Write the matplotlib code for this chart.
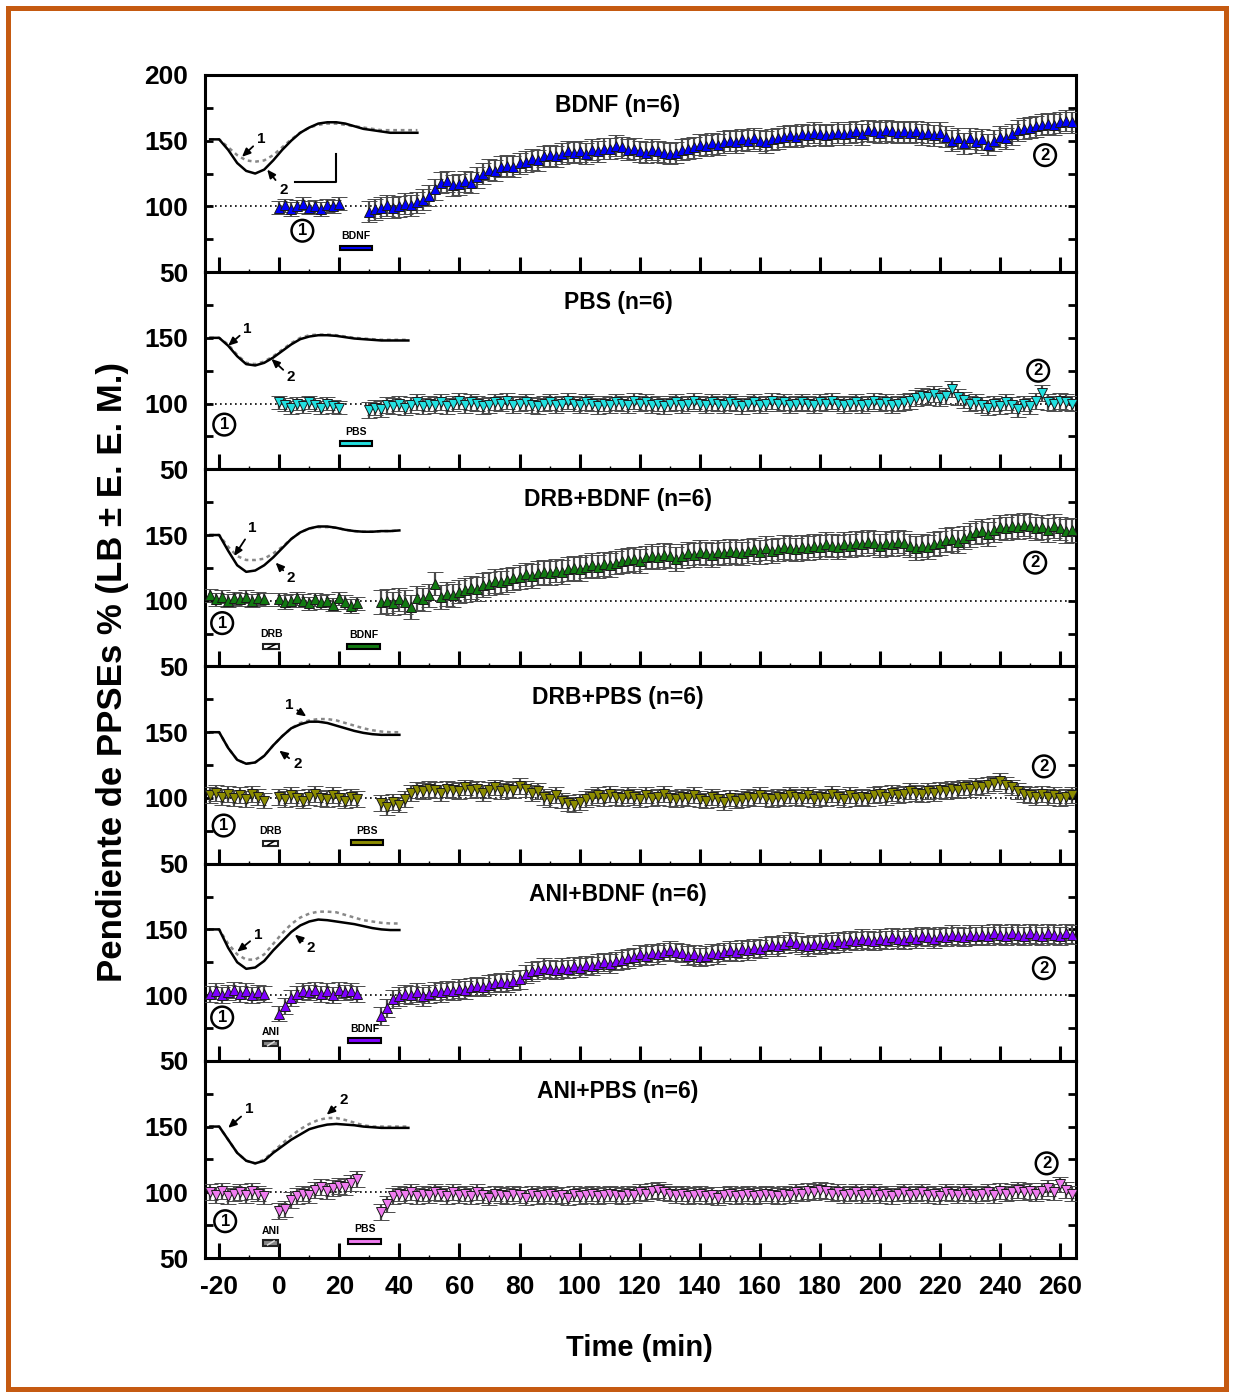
import numpy as np
import matplotlib
matplotlib.use("Agg")
import matplotlib.pyplot as plt
from matplotlib.patches import Rectangle

plt.rcParams['font.family'] = ['Liberation Sans', 'DejaVu Sans']
plt.rcParams['font.weight'] = 'bold'
plt.rcParams['axes.unicode_minus'] = False

# tiempos (min) de cada segmento
t_pre = np.arange(-23, -4, 2)      # -23 .. -5
t_a12 = np.arange(0, 21, 2)        # 0 .. 20  (BDNF, PBS)
t_a = np.arange(0, 27, 2)          # 0 .. 26
t_b12 = np.arange(30, 265, 2)      # 30 .. 264 (BDNF, PBS)
t_b = np.arange(34, 265, 2)        # 34 .. 264

# ---- BDNF ----
bdnf_a = [99, 101, 98, 100, 102, 99, 100, 98, 101, 100, 102]
bdnf_b = [96, 98, 99, 101, 99, 100, 102, 101, 103, 105,
          108, 113, 118, 119, 116, 117, 119, 118, 122, 125,
          128, 127, 130, 131, 130, 133, 134, 136, 135, 138,
          139, 138, 140, 142, 141, 142, 140, 143, 142, 144,
          144, 146, 145, 143, 144, 142, 141, 143, 142, 141,
          140, 141, 143, 144, 145, 147, 146, 148, 147, 149,
          150, 149, 151, 150, 152, 150, 149, 151, 152, 153,
          154, 153, 155, 154, 156, 155, 154, 155, 156, 155,
          156, 157, 155, 158, 157, 156, 158, 157, 156, 157,
          156, 157, 155, 156, 154, 156, 153, 150, 152, 148,
          152, 149, 151, 147, 150, 153, 152, 155, 158, 159,
          160, 161, 162, 163, 162, 164, 165, 164]
bdnf_sem = [5, 8]

# ---- PBS ----
pbs_a = [101, 99, 97, 100, 98, 101, 99, 97, 100, 98, 97]
pbs_b = [95, 97, 96, 99, 98, 100, 97, 99, 101, 98,
         100, 99, 101, 98, 100, 102, 99, 101, 100, 98,
         99, 101, 100, 102, 99, 100, 101, 99, 98, 100,
         101, 99, 100, 102, 100, 99, 101, 100, 98, 100,
         99, 101, 100, 99, 102, 100, 101, 99, 100, 98,
         100, 101, 99, 100, 102, 100, 99, 101, 100, 99,
         101, 100, 98, 100, 101, 99, 100, 102, 100, 101,
         99, 100, 101, 100, 99, 101, 100, 102, 100, 99,
         100, 101, 99, 100, 102, 100, 101, 99, 100, 101,
         102, 104, 106, 105, 107, 104, 106, 111, 105, 103,
         100, 101, 99, 97, 100, 98, 101, 99, 96, 100,
         98, 102, 108, 101, 100, 102, 101, 100]
pbs_sem = [5, 6]

# ---- DRB+BDNF ----
drb_bdnf_pre = [104, 101, 103, 100, 102, 101, 103, 100, 102, 101]
drb_bdnf_a = [101, 99, 100, 102, 100, 98, 101, 99, 100, 97, 102, 99, 96, 98]
drb_bdnf_b = [99, 100, 98, 101, 99, 95, 102, 101, 104, 113,
              103, 105, 104, 107, 108, 110, 109, 112, 113, 115,
              114, 116, 117, 118, 120, 119, 121, 122, 121, 123,
              122, 124, 125, 124, 126, 127, 126, 128, 127, 129,
              130, 131, 132, 130, 133, 134, 133, 135, 134, 132,
              134, 136, 135, 137, 136, 135, 137, 136, 138, 137,
              136, 138, 139, 137, 140, 138, 139, 141, 140, 139,
              141, 140, 142, 141, 143, 142, 141, 143, 142, 144,
              143, 145, 144, 142, 144, 143, 145, 144, 142, 140,
              142, 141, 143, 144, 146, 147, 145, 148, 150, 152,
              153, 151, 154, 156, 155, 157, 156, 158, 157, 155,
              156, 154, 157, 155, 153, 154]
drb_bdnf_sem = [5, 5, 9]

# ---- DRB+PBS ----
drb_pbs_pre = [102, 104, 101, 103, 100, 102, 99, 103, 101, 98]
drb_pbs_a = [101, 99, 102, 100, 98, 101, 103, 100, 99, 102, 100, 98, 101, 99]
drb_pbs_b = [96, 93, 97, 95, 99, 104, 106, 105, 107, 106,
             104, 107, 106, 105, 108, 106, 107, 104, 106, 108,
             105, 107, 106, 109, 107, 104, 105, 101, 99, 102,
             98, 96, 95, 97, 99, 101, 102, 100, 103, 101,
             100, 102, 101, 99, 102, 100, 101, 103, 100, 99,
             101, 100, 102, 99, 98, 101, 99, 97, 100, 98,
             99, 101, 100, 102, 100, 99, 101, 100, 102, 101,
             100, 102, 99, 101, 100, 103, 101, 99, 102, 100,
             101, 100, 102, 103, 101, 104, 102, 103, 105, 104,
             103, 105, 104, 106, 105, 107, 106, 108, 107, 109,
             108, 110, 111, 113, 110, 108, 105, 103, 102, 101,
             103, 101, 102, 100, 101, 102]
drb_pbs_sem = [6, 6, 6]

# ---- ANI+BDNF ----
ani_bdnf_pre = [101, 103, 100, 102, 104, 101, 103, 100, 102, 101]
ani_bdnf_a = [86, 92, 98, 101, 103, 102, 104, 101, 103, 100, 104, 102, 103, 101]
ani_bdnf_b = [84, 90, 97, 99, 101, 100, 102, 99, 101, 103,
              102, 104, 103, 105, 104, 106, 107, 106, 108, 109,
              110, 109, 111, 112, 116, 118, 119, 121, 120, 119,
              121, 120, 122, 121, 123, 122, 124, 125, 124, 126,
              127, 128, 129, 131, 130, 132, 131, 133, 134, 133,
              132, 130, 131, 129, 130, 132, 131, 133, 134, 133,
              135, 134, 136, 135, 137, 138, 137, 139, 141, 140,
              138, 137, 139, 138, 140, 139, 141, 140, 142, 141,
              143, 142, 141, 143, 142, 144, 143, 142, 144, 143,
              145, 144, 143, 145, 144, 146, 145, 144, 146, 145,
              146, 145, 147, 146, 145, 147, 146, 145, 147, 146,
              145, 147, 146, 145, 147, 146]
ani_bdnf_sem = [6, 6, 7]

# ---- ANI+PBS ----
ani_pbs_pre = [100, 98, 101, 97, 99, 100, 98, 101, 99, 97]
ani_pbs_a = [86, 87, 94, 97, 99, 98, 102, 104, 101, 103, 105, 104, 107, 110]
ani_pbs_b = [85, 91, 97, 99, 98, 100, 97, 99, 98, 100,
             99, 97, 100, 98, 99, 97, 100, 98, 96, 99,
             98, 97, 99, 98, 96, 99, 97, 98, 99, 97,
             98, 96, 99, 97, 98, 99, 97, 98, 99, 98,
             97, 99, 98, 100, 99, 101, 102, 100, 99, 98,
             99, 97, 98, 99, 97, 98, 96, 98, 99, 97,
             98, 99, 97, 98, 99, 98, 97, 99, 98, 100,
             99, 101, 100, 102, 101, 99, 100, 98, 99, 100,
             98, 99, 100, 98, 99, 97, 99, 100, 98, 99,
             100, 98, 99, 97, 100, 99, 98, 100, 99, 98,
             99, 100, 98, 101, 99, 100, 102, 100, 101, 99,
             101, 103, 100, 106, 102, 99]
ani_pbs_sem = [6, 6, 6]

# registros representativos (1 = antes, 2 = despues), eje en min
tr_x = np.arange(-23, 47, 3)
tr_bdnf_2 = [151, 151, 143, 133, 127, 125, 128, 135, 143, 150, 156, 160, 163, 164, 164, 163, 161, 159, 158, 157, 156, 156, 156, 156]
tr_bdnf_1 = [151, 151, 145, 139, 135, 134, 135, 139, 145, 151, 156, 160, 162, 163, 163, 162, 161, 160, 159, 158, 158, 158, 158, 158]
tr_pbs_2 = [150, 150, 144, 136, 130, 129, 131, 135, 140, 145, 149, 151, 152, 152, 151.5, 150.5, 149.5, 149, 148.5, 148, 148, 148, 148]
tr_pbs_1 = [150, 150, 145, 137, 131, 130, 132, 136, 141, 146, 150, 152, 152.5, 152.5, 152, 151, 150, 149.5, 149, 148.5, 148.5, 148.5, 148.5]
tr_drb_bdnf_2 = [150, 150, 138, 127, 122, 123, 127, 133, 140, 147, 152, 155, 156.5, 156.5, 155.5, 154, 153, 152.5, 152.5, 153, 153, 153.5]
tr_drb_bdnf_1 = [150, 150, 141, 134, 131, 131, 132, 136, 141, 147, 152, 155, 156, 156, 155.5, 154, 153, 152.5, 152.5, 153, 153, 153.5]
tr_drb_pbs_2 = [150, 150, 138, 129, 126, 127, 132, 140, 147, 153, 156, 158, 158, 157, 155, 153, 151, 149.5, 148.5, 148, 148, 148]
tr_drb_pbs_1 = [150, 150, 138, 129, 126, 127, 132, 140, 147, 153, 157, 159, 160, 160, 159, 157, 155, 153, 151.5, 150.5, 150, 150]
tr_ani_bdnf_2 = [150, 150, 136, 125, 120, 121, 126, 134, 141, 148, 153, 156, 157.5, 157, 156, 155, 154, 152.5, 151, 150, 149.5, 149.5]
tr_ani_bdnf_1 = [150, 150, 139, 131, 127, 127, 131, 139, 147, 154, 159, 162, 163.5, 163.5, 163, 161, 159, 157, 156, 155, 154.5, 154.5]
tr_ani_pbs_2 = [150, 150, 140, 130, 124, 122, 124, 130, 135, 140, 144, 148, 150, 151.5, 152, 151.5, 151, 150, 149.5, 149, 149, 149, 149]
tr_ani_pbs_1 = [150, 150, 140, 130, 124, 122, 125, 131, 137, 143, 148, 152, 155, 156.5, 156.5, 155, 153, 151, 150, 150, 150, 150, 150]

titles = ['BDNF (n=6)', 'PBS (n=6)', 'DRB+BDNF (n=6)', 'DRB+PBS (n=6)', 'ANI+BDNF (n=6)', 'ANI+PBS (n=6)']
colors = ['#0000FF', '#22E0E0', '#117A11', '#8C8C00', '#7F00FF', '#F07CF0']
markers = ['^', 'v', '^', 'v', '^', 'v']

segments = [
    [(t_a12, bdnf_a, bdnf_sem[0]), (t_b12, bdnf_b, bdnf_sem[1])],
    [(t_a12, pbs_a, pbs_sem[0]), (t_b12, pbs_b, pbs_sem[1])],
    [(t_pre, drb_bdnf_pre, drb_bdnf_sem[0]), (t_a, drb_bdnf_a, drb_bdnf_sem[1]), (t_b, drb_bdnf_b, drb_bdnf_sem[2])],
    [(t_pre, drb_pbs_pre, drb_pbs_sem[0]), (t_a, drb_pbs_a, drb_pbs_sem[1]), (t_b, drb_pbs_b, drb_pbs_sem[2])],
    [(t_pre, ani_bdnf_pre, ani_bdnf_sem[0]), (t_a, ani_bdnf_a, ani_bdnf_sem[1]), (t_b, ani_bdnf_b, ani_bdnf_sem[2])],
    [(t_pre, ani_pbs_pre, ani_pbs_sem[0]), (t_a, ani_pbs_a, ani_pbs_sem[1]), (t_b, ani_pbs_b, ani_pbs_sem[2])],
]
traces = [(tr_bdnf_1, tr_bdnf_2), (tr_pbs_1, tr_pbs_2), (tr_drb_bdnf_1, tr_drb_bdnf_2),
          (tr_drb_pbs_1, tr_drb_pbs_2), (tr_ani_bdnf_1, tr_ani_bdnf_2), (tr_ani_pbs_1, tr_ani_pbs_2)]

# posiciones de flechas, numeros y barras de farmaco (layout)
arrows = [
    [((-6, 151.5), (-12.4, 137.7)), ((1.4, 112.5), (-4, 128))],
    [((-10.5, 157), (-17, 144)), ((4, 120), (-2.6, 134))],
    [((-9, 155), (-15, 134)), ((4, 117), (-1.2, 129))],
    [((3.3, 171), (9, 162)), ((6, 125.5), (0, 136))],
    [((-7, 146), (-14, 133)), ((10.5, 136), (5.2, 146))],
    [((-10, 163), (-17, 149)), ((21.5, 170.5), (15.8, 159))],
]
circles = [((7.7, 81.5), (255, 139)), ((-18.3, 84), (252.7, 125)), ((-19, 83), (251.7, 129)),
           ((-18.5, 79), (254.6, 124)), ((-19, 83), (254.6, 120.5)), ((-18, 78), (255.5, 122))]
# (texto, x0, x1, y0, y1, tipo)
drugs = [
    [('BDNF', 20.3, 31, 66.5, 69.8, 'bar')],
    [('PBS', 20.3, 31, 68, 71.3, 'bar')],
    [('DRB', -5.3, 0, 63.5, 67.3, 'drb'), ('BDNF', 22.7, 33.7, 63.5, 67, 'bar')],
    [('DRB', -5.3, -0.5, 63.5, 67.5, 'drb'), ('PBS', 24, 34.5, 64.5, 67.8, 'bar')],
    [('ANI', -5.3, -0.5, 61, 65, 'ani'), ('BDNF', 23, 34, 63.5, 67, 'bar')],
    [('ANI', -5.3, -0.5, 59.5, 63.5, 'ani'), ('PBS', 23, 34, 61, 64.5, 'bar')],
]

fig, axes = plt.subplots(6, 1, figsize=(12.33, 13.93), dpi=100, sharex=True)
fig.subplots_adjust(left=0.1663, right=0.8727, bottom=0.0969, top=0.9462, hspace=0)

for i, ax in enumerate(axes):
    ax.axhline(100, color='black', ls=(0, (1, 2)), lw=1.2, zorder=1)
    for t, v, s in segments[i]:
        ax.errorbar(t, v, yerr=s, fmt=markers[i], ms=7.5, mfc=colors[i], mec='#1a1a1a', mew=0.7,
                    ecolor='#4a4a4a', elinewidth=1.6, capsize=6, capthick=1.6, zorder=3)

    t1, t2 = traces[i]
    ax.plot(tr_x[:len(t1)], t1, color='#888888', ls=(0, (1.5, 1.5)), lw=1.8, zorder=2)
    ax.plot(tr_x[:len(t2)], t2, color='black', lw=1.8, zorder=2)

    for lab, (txt, tip) in zip(['1', '2'], arrows[i]):
        ax.annotate(lab, xy=tip, xytext=txt, ha='center', va='center', fontsize=11,
                    arrowprops=dict(arrowstyle='-|>,head_length=0.45,head_width=0.2', lw=1.3,
                                    color='black', shrinkA=1, shrinkB=0))
    for lab, pos in zip(['1', '2'], circles[i]):
        ax.text(pos[0], pos[1], lab, fontsize=12, ha='center', va='center',
                bbox=dict(boxstyle='circle,pad=0.2', fc='white', ec='black', lw=1.8), zorder=5)

    for name, x0, x1, y0, y1, kind in drugs[i]:
        if kind == 'bar':
            ax.add_patch(Rectangle((x0, y0), x1 - x0, y1 - y0, fc=colors[i], ec='black', lw=1.5, zorder=4))
        else:
            face = 'white' if kind == 'drb' else '#888888'
            ax.add_patch(Rectangle((x0, y0), x1 - x0, y1 - y0, fc=face, ec='#222222', lw=1.5, zorder=4))
            slash = 'black' if kind == 'drb' else '#dddddd'
            ax.plot([x0 + 0.3 * (x1 - x0), x1 - 0.25 * (x1 - x0)], [y0 + 0.5, y1 - 0.5],
                    color=slash, lw=1.1, zorder=5)
        ax.text((x0 + x1) / 2, y1 + 3.5, name, fontsize=7.5, ha='center', va='bottom')

    ax.text(0.474, 0.845, titles[i], transform=ax.transAxes, ha='center', va='center', fontsize=16.5)

    ax.set_ylim(50, 200)
    ax.set_xlim(-24.7, 265.3)
    ax.set_yticks([50, 100, 150, 200])
    ax.set_yticks([75, 125, 175], minor=True)
    ax.set_yticklabels(['50', '100', '150', '200' if i == 0 else ''])
    ax.set_xticks(np.arange(-20, 261, 20))
    ax.set_xticks(np.arange(-10, 261, 20), minor=True)
    ax.tick_params(axis='y', which='both', direction='in', left=True, right=True, length=6, width=2,
                   labelsize=19, pad=12)
    ax.tick_params(axis='x', which='major', direction='in', top=False, length=11, width=2.2,
                   labelsize=19, pad=12)
    ax.tick_params(axis='x', which='minor', direction='in', top=False, length=2, width=1)
    for sp in ax.spines.values():
        sp.set_linewidth(2.2)

# barra de escala del registro
axes[0].plot([5.3, 19, 19], [118.5, 118.5, 140], color='black', lw=1.5, zorder=2)

fig.text(0.091, 0.5176, 'Pendiente de PPSEs % (LB ± E. E. M.)', rotation=90, fontsize=25,
         ha='center', va='center')
fig.text(0.519, 0.032, 'Time (min)', fontsize=21, ha='center', va='center')

fig.add_artist(Rectangle((7.5 / 1233, 4 / 1393), (1233 - 15) / 1233, (1389 - 7.5) / 1393,
                         transform=fig.transFigure, fill=False, ec='#C55A11', lw=3.6))

plt.savefig('out.png', dpi=100)
